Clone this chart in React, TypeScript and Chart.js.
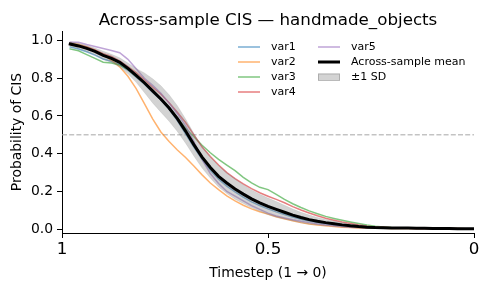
import { useEffect, useRef } from 'react';
import { Chart, registerables } from 'chart.js';

Chart.register(...registerables);

const timesteps = [
  0.98, 0.96, 0.94, 0.92, 0.9, 0.88, 0.86, 0.84, 0.82, 0.8,
  0.78, 0.76, 0.74, 0.72, 0.7, 0.68, 0.66, 0.64, 0.62, 0.6,
  0.58, 0.56, 0.54, 0.52, 0.5, 0.48, 0.46, 0.44, 0.42, 0.4,
  0.38, 0.36, 0.34, 0.32, 0.3, 0.28, 0.26, 0.24, 0.22, 0.2,
  0.18, 0.16, 0.14, 0.12, 0.1, 0.08, 0.06, 0.04, 0.02, 0.0,
];

const var1 = [
  0.965, 0.955, 0.94, 0.922, 0.902, 0.89, 0.872, 0.842, 0.805, 0.768,
  0.725, 0.685, 0.635, 0.575, 0.505, 0.435, 0.37, 0.312, 0.265, 0.228,
  0.198, 0.17, 0.145, 0.126, 0.108, 0.092, 0.078, 0.065, 0.053, 0.043,
  0.035, 0.029, 0.024, 0.019, 0.015, 0.012, 0.01, 0.008, 0.007, 0.006,
  0.005, 0.005, 0.005, 0.004, 0.004, 0.004, 0.003, 0.003, 0.003, 0.003,
];

const var2 = [
  0.985, 0.98, 0.966, 0.948, 0.925, 0.895, 0.86, 0.81, 0.745, 0.665,
  0.585, 0.515, 0.465, 0.42, 0.38, 0.335, 0.288, 0.245, 0.21, 0.177,
  0.15, 0.127, 0.108, 0.093, 0.08, 0.066, 0.055, 0.045, 0.035, 0.028,
  0.022, 0.018, 0.014, 0.011, 0.009, 0.007, 0.006, 0.005, 0.005, 0.004,
  0.004, 0.004, 0.003, 0.003, 0.003, 0.003, 0.003, 0.002, 0.002, 0.002,
];

const var3 = [
  0.955, 0.945, 0.925, 0.905, 0.885, 0.88, 0.87, 0.845, 0.81, 0.772,
  0.732, 0.692, 0.645, 0.59, 0.535, 0.49, 0.445, 0.405, 0.37, 0.34,
  0.31, 0.275, 0.245, 0.222, 0.21, 0.185, 0.158, 0.135, 0.115, 0.097,
  0.082, 0.068, 0.057, 0.047, 0.038, 0.03, 0.022, 0.016, 0.012, 0.009,
  0.008, 0.007, 0.006, 0.005, 0.005, 0.004, 0.004, 0.004, 0.003, 0.003,
];

const var4 = [
  0.978, 0.975, 0.965, 0.95, 0.93, 0.915, 0.892, 0.862, 0.83, 0.792,
  0.752, 0.715, 0.67, 0.62, 0.565, 0.5, 0.435, 0.385, 0.34, 0.3,
  0.268, 0.24, 0.215, 0.193, 0.175, 0.158, 0.14, 0.12, 0.102, 0.086,
  0.071, 0.058, 0.048, 0.038, 0.03, 0.022, 0.016, 0.012, 0.01, 0.008,
  0.007, 0.006, 0.005, 0.005, 0.005, 0.004, 0.004, 0.004, 0.003, 0.003,
];

const var5 = [
  0.99, 0.99, 0.978, 0.968, 0.957, 0.947, 0.935, 0.9, 0.85, 0.8,
  0.762, 0.72, 0.668, 0.612, 0.548, 0.465, 0.37, 0.295, 0.242, 0.2,
  0.175, 0.15, 0.125, 0.105, 0.085, 0.07, 0.06, 0.05, 0.042, 0.035,
  0.028, 0.022, 0.018, 0.014, 0.011, 0.009, 0.008, 0.007, 0.006, 0.005,
  0.005, 0.005, 0.004, 0.004, 0.004, 0.003, 0.003, 0.003, 0.003, 0.003,
];

const meanValues = [
  0.981, 0.971, 0.958, 0.942, 0.921, 0.905, 0.884, 0.852, 0.815, 0.776,
  0.733, 0.69, 0.642, 0.586, 0.52, 0.448, 0.382, 0.327, 0.28, 0.245,
  0.213, 0.186, 0.161, 0.14, 0.121, 0.105, 0.09, 0.075, 0.062, 0.051,
  0.042, 0.035, 0.029, 0.023, 0.018, 0.014, 0.011, 0.009, 0.008, 0.007,
  0.006, 0.006, 0.005, 0.005, 0.004, 0.004, 0.004, 0.003, 0.003, 0.003,
];

const sdValues = [
  0.012, 0.014, 0.016, 0.018, 0.022, 0.022, 0.024, 0.028, 0.037, 0.052,
  0.064, 0.07, 0.07, 0.068, 0.064, 0.06, 0.058, 0.056, 0.056, 0.056,
  0.054, 0.05, 0.047, 0.045, 0.044, 0.042, 0.037, 0.032, 0.028, 0.024,
  0.02, 0.017, 0.014, 0.012, 0.01, 0.008, 0.006, 0.004, 0.003, 0.002,
  0.002, 0.001, 0.001, 0.001, 0.001, 0.001, 0.001, 0.001, 0.001, 0.001,
];

const seriesNames = ['var1', 'var2', 'var3', 'var4', 'var5'];
const seriesValues = [var1, var2, var3, var4, var5];
const seriesColors = [
  'rgba(31,119,180,0.6)',
  'rgba(255,127,14,0.6)',
  'rgba(44,160,44,0.6)',
  'rgba(214,39,40,0.6)',
  'rgba(148,103,189,0.6)',
];

const thresholdValue = 0.5;
const xTickValues = [1, 0.5, 0];
const xTickLabels = ['1', '0.5', '0'];
const yTickValues = [0, 0.2, 0.4, 0.6, 0.8, 1.0];
const yTickLabels = ['0.0', '0.2', '0.4', '0.6', '0.8', '1.0'];

const titleText = 'Across-sample CIS — handmade_objects';
const xLabelText = 'Timestep (1 → 0)';
const yLabelText = 'Probability of CIS';
const meanLabel = 'Across-sample mean';
const sdLabel = '±1 SD';

const FONT = "'DejaVu Sans', 'Liberation Sans', sans-serif";
const BAND = 'rgba(128,128,128,0.35)';

const textPlugin = {
  id: 'mplText',
  afterDraw(chart: any) {
    const ctx = chart.ctx;
    const area = chart.chartArea;
    ctx.save();
    ctx.fillStyle = '#000';
    ctx.font = `16.7px ${FONT}`;
    ctx.textAlign = 'center';
    ctx.textBaseline = 'alphabetic';
    ctx.fillText(titleText, (area.left + area.right) / 2, 25);
    ctx.font = `13.9px ${FONT}`;
    ctx.fillText(xLabelText, (area.left + area.right) / 2, 277);
    ctx.save();
    ctx.translate(21, (area.top + area.bottom) / 2);
    ctx.rotate(-Math.PI / 2);
    ctx.fillText(yLabelText, 0, 0);
    ctx.restore();

    const entries: any[] = [];
    seriesNames.forEach((n, i) => entries.push({ label: n, kind: 'line', color: seriesColors[i], width: 1.5 }));
    entries.push({ label: meanLabel, kind: 'line', color: '#000', width: 3 });
    entries.push({ label: sdLabel, kind: 'patch', color: BAND });
    const rowsPerCol = 4;
    const colX = [238, 318];
    const rowY0 = 47;
    const rowH = 15;
    ctx.font = `11px ${FONT}`;
    ctx.textAlign = 'left';
    ctx.textBaseline = 'middle';
    entries.forEach((e, i) => {
      const col = Math.floor(i / rowsPerCol);
      const row = i % rowsPerCol;
      const x = colX[col];
      const y = rowY0 + row * rowH;
      if (e.kind === 'line') {
        ctx.beginPath();
        ctx.strokeStyle = e.color;
        ctx.lineWidth = e.width;
        ctx.moveTo(x, y);
        ctx.lineTo(x + 22, y);
        ctx.stroke();
      } else {
        ctx.fillStyle = e.color;
        ctx.fillRect(x, y - 3.5, 22, 7);
        ctx.strokeStyle = 'rgba(128,128,128,0.45)';
        ctx.lineWidth = 1;
        ctx.strokeRect(x + 0.5, y - 3, 21, 6.5);
      }
      ctx.fillStyle = '#000';
      ctx.fillText(e.label, x + 33, y + 0.5);
    });
    ctx.restore();
  },
};

const toPoints = (vals: number[]) => timesteps.map((t, i) => ({ x: t, y: vals[i] }));

export default function App() {
  const canvasRef = useRef<HTMLCanvasElement | null>(null);

  useEffect(() => {
    if (!canvasRef.current) return;
    const datasets: any[] = [];
    datasets.push({
      label: meanLabel,
      data: toPoints(meanValues),
      borderColor: '#000',
      borderWidth: 3,
      borderCapStyle: 'square',
      pointRadius: 0,
      fill: false,
      order: 0,
    });
    datasets.push({
      label: 'sdUpper',
      data: timesteps.map((t, i) => ({ x: t, y: meanValues[i] + sdValues[i] })),
      borderColor: 'rgba(128,128,128,0.25)',
      borderWidth: 0.6,
      pointRadius: 0,
      fill: '+1',
      backgroundColor: BAND,
      order: 1,
    });
    datasets.push({
      label: 'sdLower',
      data: timesteps.map((t, i) => ({ x: t, y: meanValues[i] - sdValues[i] })),
      borderColor: 'rgba(128,128,128,0.25)',
      borderWidth: 0.6,
      pointRadius: 0,
      fill: false,
      order: 1,
    });
    seriesNames.forEach((name, i) => {
      datasets.push({
        label: name,
        data: toPoints(seriesValues[i]),
        borderColor: seriesColors[i],
        borderWidth: 1.5,
        borderCapStyle: 'square',
        pointRadius: 0,
        fill: false,
        order: 2 + (4 - i),
      });
    });
    datasets.push({
      label: 'threshold',
      data: [
        { x: 1, y: thresholdValue },
        { x: 0, y: thresholdValue },
      ],
      borderColor: '#a6a6a6',
      borderWidth: 1,
      borderDash: [5, 2.2],
      pointRadius: 0,
      fill: false,
      order: 8,
    });

    const tickFontX = { family: FONT, size: 16.7 };
    const tickFontY = { family: FONT, size: 13.9 };

    const chart = new Chart(canvasRef.current, {
      type: 'line',
      data: { datasets },
      plugins: [textPlugin],
      options: {
        responsive: false,
        animation: false,
        devicePixelRatio: 1,
        layout: { padding: { top: 31, right: 16, left: 0, bottom: 0 } },
        plugins: {
          legend: { display: false },
          tooltip: { enabled: false },
          title: { display: false },
        },
        elements: { line: { tension: 0 } },
        scales: {
          x: {
            type: 'linear',
            reverse: true,
            min: 0,
            max: 1,
            afterFit: (s: any) => {
              s.height = 57;
            },
            afterBuildTicks: (s: any) => {
              s.ticks = xTickValues.map((v) => ({ value: v }));
            },
            ticks: {
              callback: (v: any) => xTickLabels[xTickValues.indexOf(Number(v))] ?? '',
              font: tickFontX,
              color: '#000',
              padding: 2,
              maxRotation: 0,
              autoSkip: false,
            },
            grid: {
              drawOnChartArea: false,
              drawTicks: true,
              tickLength: 5,
              tickColor: '#000',
              tickWidth: 1,
            },
            border: { display: true, color: '#000', width: 1 },
          },
          y: {
            type: 'linear',
            min: -0.02,
            max: 1.05,
            afterFit: (s: any) => {
              s.width = 62;
            },
            afterBuildTicks: (s: any) => {
              s.ticks = yTickValues.map((v) => ({ value: v }));
            },
            ticks: {
              callback: (v: any) => {
                const idx = yTickValues.findIndex((t) => Math.abs(t - Number(v)) < 1e-9);
                return idx >= 0 ? yTickLabels[idx] : '';
              },
              font: tickFontY,
              color: '#000',
              padding: 4,
              autoSkip: false,
            },
            grid: {
              drawOnChartArea: false,
              drawTicks: true,
              tickLength: 5,
              tickColor: '#000',
              tickWidth: 1,
            },
            border: { display: true, color: '#000', width: 1 },
          },
        },
      } as any,
    });
    return () => chart.destroy();
  }, []);

  return (
    <div style={{ position: 'fixed', left: 0, top: 0, width: 490, height: 290, background: '#fff' }}>
      <canvas ref={canvasRef} width={490} height={290} style={{ display: 'block' }} />
    </div>
  );
}
